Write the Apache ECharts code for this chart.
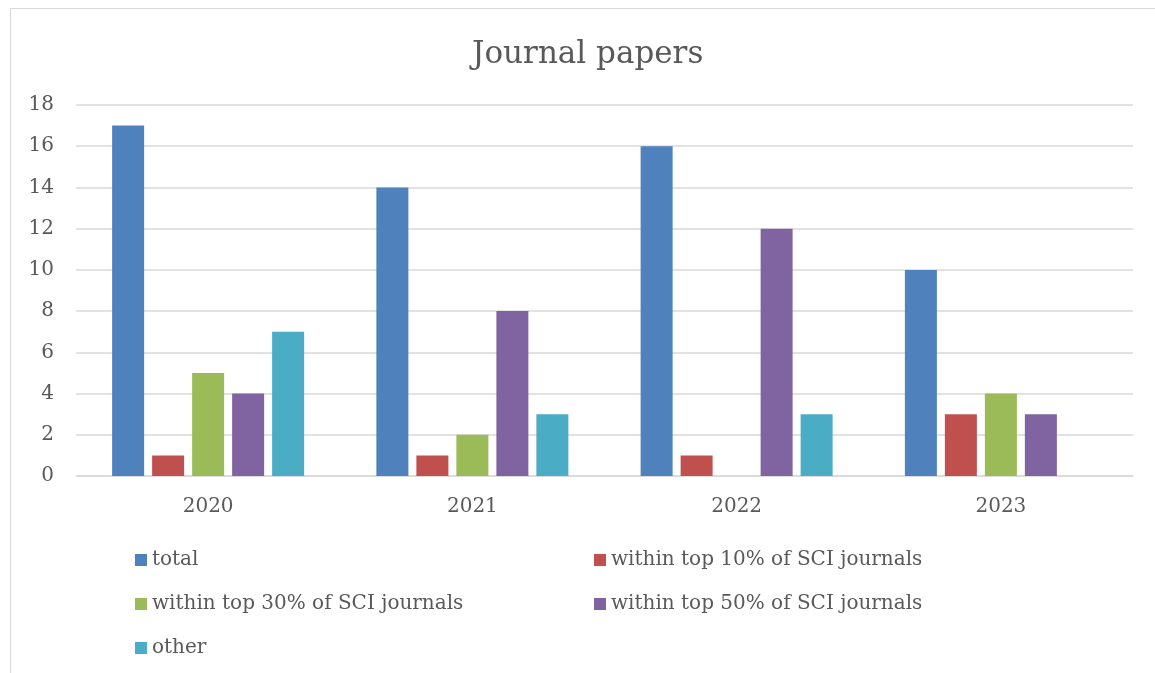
<!DOCTYPE html>
<html><head><meta charset="utf-8">
<script src="https://cdn.jsdelivr.net/npm/echarts@6/dist/echarts.min.js"></script>
<style>html,body{margin:0;padding:0;background:#fff}#c{width:1155px;height:673px}</style>
</head><body><div id="c"></div>
<script>
const categories = ['2020', '2021', '2022', '2023'];
const seriesNames = ['total', 'within top 10% of SCI journals', 'within top 30% of SCI journals', 'within top 50% of SCI journals', 'other'];
const total = [17, 14, 16, 10];
const top10 = [1, 1, 1, 3];
const top30 = [5, 2, 0, 4];
const top50 = [4, 8, 12, 3];
const other = [7, 3, 3, 0];
const yTicks = [0, 2, 4, 6, 8, 10, 12, 14, 16, 18];
const colors = ['#4F81BD', '#C0504D', '#9BBB59', '#8064A2', '#4BACC6'];

const FONT = 'DejaVu Serif';
const TXT = '#595959';
const values = [total, top10, top30, top50, other];

const chart = echarts.init(document.getElementById('c'), null, {renderer: 'canvas'});
chart.setOption({
  animation: false,
  backgroundColor: '#fff',
  color: colors,
  title: {
    text: 'Journal papers', left: 467, top: 34,
    textStyle: {fontFamily: FONT, fontSize: 31, fontWeight: 'normal', color: TXT}
  },
  graphic: [{
    type: 'rect', shape: {x: 10.5, y: 8.5, width: 1160, height: 680},
    style: {fill: 'none', stroke: '#D9D9D9', lineWidth: 1}, silent: true
  }],
  legend: [{
    orient: 'vertical', left: 135, top: 550, padding: 0, itemWidth: 12, itemHeight: 12, itemGap: 24,
    icon: 'rect', data: [seriesNames[0], seriesNames[2], seriesNames[4]],
    textStyle: {fontFamily: FONT, fontSize: 20, color: TXT, lineHeight: 20}
  }, {
    orient: 'vertical', left: 594, top: 550, padding: 0, itemWidth: 12, itemHeight: 12, itemGap: 24,
    icon: 'rect', data: [seriesNames[1], seriesNames[3]],
    textStyle: {fontFamily: FONT, fontSize: 20, color: TXT, lineHeight: 20}
  }],
  grid: {left: 76, right: 22, top: 105, bottom: 197, containLabel: false},
  xAxis: {
    type: 'category', data: categories,
    axisLine: {lineStyle: {color: '#D9D9D9', width: 1.5}},
    axisTick: {show: false},
    axisLabel: {fontFamily: FONT, fontSize: 20, color: TXT, margin: 21}
  },
  yAxis: {
    type: 'value', min: yTicks[0], max: yTicks[yTicks.length - 1], interval: 2,
    axisLine: {show: false}, axisTick: {show: false},
    axisLabel: {fontFamily: FONT, fontSize: 20, color: TXT, margin: 22},
    splitLine: {lineStyle: {color: '#D9D9D9', width: 1.5}}
  },
  series: seriesNames.map((n, i) => ({
    name: n, type: 'bar', data: values[i], barWidth: 32, barGap: '25%',
    itemStyle: {color: colors[i]}
  }))
});
</script></body></html>
